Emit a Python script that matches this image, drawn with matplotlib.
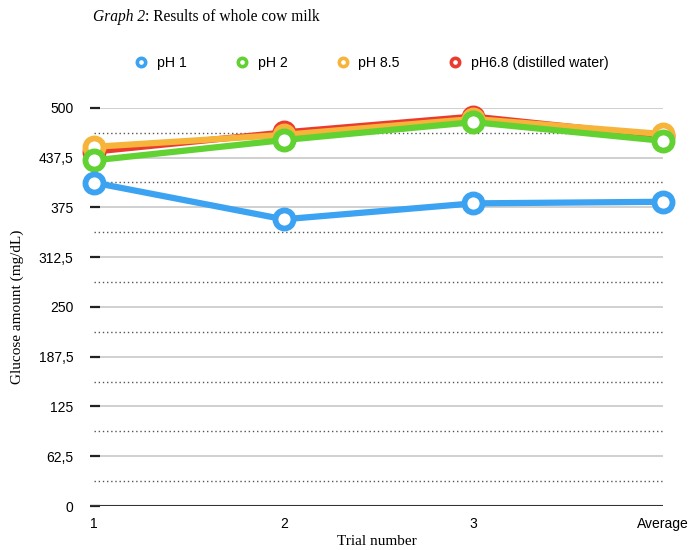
import matplotlib
matplotlib.use("Agg")
import matplotlib.pyplot as plt
from matplotlib.lines import Line2D

categories = ["1", "2", "3", "Average"]
ph1 = [406, 360, 380, 382]
ph2 = [434, 459.5, 482, 458.5]
ph85 = [451, 466, 486, 467]
ph68 = [445, 469, 489, 464]
yticks = [0, 62.5, 125, 187.5, 250, 312.5, 375, 437.5, 500]
ytick_labels = ["0", "62,5", "125", "187,5", "250", "312,5", "375", "437,5", "500"]

c_blue = "#3ca3f2"
c_green = "#62d132"
c_orange = "#f6b43b"
c_red = "#eb3b2e"

fig = plt.figure(figsize=(6.94, 5.5), dpi=100)
ax = fig.add_axes([0.13, 0.08, 0.8254, 0.724])

x = list(range(len(categories)))
ax.set_xlim(-0.02, 3)
ax.set_ylim(0, 500)

# grid
for v in yticks[1:]:
    ax.axhline(v, color="#c8c8c8", lw=1.2, zorder=1)
for i in range(len(yticks) - 1):
    mid = (yticks[i] + yticks[i + 1]) / 2
    ax.plot([0, 3], [mid, mid], color="#555555", lw=1.0, ls=(0, (1, 2)), zorder=1)
ax.axhline(0, color="#333333", lw=1.5, zorder=2)

series = [(ph68, c_red), (ph85, c_orange), (ph2, c_green), (ph1, c_blue)]
for vals, col in series:
    ax.plot(x, vals, color=col, lw=4.5, marker="o", ms=13, mfc="white",
            mec=col, mew=4.2, zorder=3, clip_on=False, solid_capstyle="round")

for s in ax.spines.values():
    s.set_visible(False)
ax.set_yticks(yticks)
ax.set_yticklabels(ytick_labels, fontfamily="Liberation Sans", fontsize=10)
ax.tick_params(axis="y", direction="in", length=7, width=1.6, color="#222222", pad=12)
ax.set_xticks(x)
ax.set_xticklabels(categories, fontfamily="Liberation Sans", fontsize=10)
ax.tick_params(axis="x", length=0, pad=8)

ax.set_xlabel("Trial number", fontfamily="Liberation Serif", fontsize=11, labelpad=3)
ax.set_ylabel("Glucose amount (mg/dL)", fontfamily="Liberation Serif", fontsize=11, labelpad=11)

# title: italic part + normal part
t1 = fig.text(93 / 694, 1 - 17 / 550, "Graph 2", fontfamily="Liberation Serif",
              fontstyle="italic", fontsize=11.2, va="center", ha="left")
fig.canvas.draw()
bb = t1.get_window_extent()
fig.text(bb.x1 / fig.bbox.width, 1 - 17 / 550, ": Results of whole cow milk",
         fontfamily="Liberation Serif", fontsize=11.2, va="center", ha="left")

handles = [Line2D([], [], ls="none", marker="o", ms=6, mfc="white", mec=c, mew=2.6)
           for c in [c_blue, c_green, c_orange, c_red]]
fig.legend(handles, ["pH 1", "pH 2", "pH 8.5", "pH6.8 (distilled water)"],
           loc="center", bbox_to_anchor=(0.535, 1 - 63 / 550), ncol=4, frameon=False,
           prop={"family": "Liberation Sans", "size": 10.2}, columnspacing=3.4,
           handletextpad=0.6, handlelength=1.0)

fig.savefig("out.png", dpi=100)
